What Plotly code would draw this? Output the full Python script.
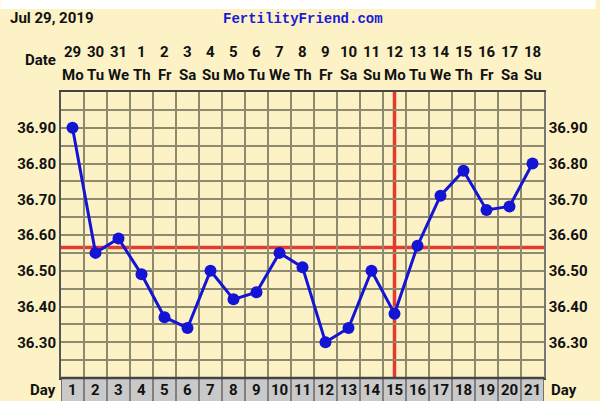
import plotly.graph_objects as go

days = list(range(1, 22))
dates = ["29", "30", "31", "1", "2", "3", "4", "5", "6", "7", "8", "9", "10",
         "11", "12", "13", "14", "15", "16", "17", "18"]
weekdays = ["Mo", "Tu", "We", "Th", "Fr", "Sa", "Su", "Mo", "Tu", "We", "Th",
            "Fr", "Sa", "Su", "Mo", "Tu", "We", "Th", "Fr", "Sa", "Su"]
temps = [36.90, 36.55, 36.59, 36.49, 36.37, 36.34, 36.50, 36.42, 36.44, 36.55,
         36.51, 36.30, 36.34, 36.50, 36.38, 36.57, 36.71, 36.78, 36.67, 36.68, 36.80]
coverline = 36.565
ovulation_day = 15
y_ticks = [36.30, 36.40, 36.50, 36.60, 36.70, 36.80, 36.90]
title_date = "Jul 29, 2019"
site = "FertilityFriend.com"

W, H = 600, 401
ML, MR, MT, MB = 61, 52, 92, 23
PH = H - MT - MB

def py(pix):
    return (H - MB - pix) / PH

FONT = "Roboto"
GRID = "#8e8a6e"
BG = "#fcf2c6"
RED = "#e53a30"
BLUE = "#1414d4"

fig = go.Figure()

fig.add_trace(go.Scatter(
    x=days, y=temps, mode="lines+markers",
    line=dict(color=BLUE, width=3),
    marker=dict(color=BLUE, size=12),
    hoverinfo="skip", showlegend=False,
))
fig.add_trace(go.Scatter(
    x=days, y=temps, mode="markers", yaxis="y2",
    marker=dict(opacity=0), hoverinfo="skip", showlegend=False,
))

yrange = [36.20, 37.00]
axis_common = dict(
    range=yrange, tickvals=y_ticks, tickformat=".2f",
    tickfont=dict(family=FONT, size=15, color="#111111", weight="bold"),
    ticks="", fixedrange=True, zeroline=False,
)
fig.update_layout(
    width=W, height=H,
    margin=dict(l=ML, r=MR, t=MT, b=MB, pad=0),
    paper_bgcolor=BG, plot_bgcolor=BG,
    xaxis=dict(
        range=[0.5, 21.5],
        tickvals=[d + 0.5 for d in days[:-1]],
        showticklabels=False, ticks="",
        showgrid=True, gridcolor=GRID, gridwidth=1.5,
        showline=True, linecolor="#444444", linewidth=2, mirror=True,
        zeroline=False, fixedrange=True,
    ),
    yaxis=dict(
        **axis_common, side="left",
        showgrid=True, gridcolor=GRID, gridwidth=1.5,
        minor=dict(dtick=0.05, showgrid=True, gridcolor=GRID, gridwidth=1.5),
        showline=True, linecolor="#555555", linewidth=2,
    ),
    yaxis2=dict(
        **axis_common, side="right", overlaying="y", showgrid=False,
        showline=True, linecolor="#777777", linewidth=1.5,
    ),
)

shapes = []
# white strip at very top
shapes.append(dict(type="rect", xref="paper", yref="paper",
                   x0=-ML / (W - ML - MR), x1=1 + MR / (W - ML - MR),
                   y0=py(9), y1=py(0), fillcolor="white", line_width=0, layer="below"))
# day row grey band
shapes.append(dict(type="rect", xref="x", yref="paper", x0=0.5, x1=21.5,
                   y0=py(H + 2), y1=0, fillcolor="#c9c9c9",
                   line=dict(color="#555555", width=1.5)))
for d in days[:-1]:
    shapes.append(dict(type="line", xref="x", yref="paper", x0=d + 0.5, x1=d + 0.5,
                       y0=py(H + 2), y1=0, line=dict(color="#666666", width=1.5)))
shapes.append(dict(type="line", xref="x", yref="paper", x0=0.5, x1=21.5,
                   y0=0, y1=0, line=dict(color="#444444", width=2.5)))
# coverline and ovulation line
shapes.append(dict(type="line", xref="paper", yref="y", x0=0, x1=1,
                   y0=coverline, y1=coverline, line=dict(color=RED, width=3.5),
                   layer="between"))
shapes.append(dict(type="line", xref="x", yref="paper", x0=ovulation_day,
                   x1=ovulation_day, y0=0, y1=py(90), line=dict(color=RED, width=3.5),
                   layer="between"))
fig.update_layout(shapes=shapes)

ann = []
bold = dict(family=FONT, size=15, color="#111111", weight="bold")
for d, dt, wd in zip(days, dates, weekdays):
    ann.append(dict(x=d, y=py(52), xref="x", yref="paper", text=dt,
                    showarrow=False, font=bold, xanchor="center", yanchor="middle"))
    ann.append(dict(x=d, y=py(75), xref="x", yref="paper", text=wd,
                    showarrow=False, font=bold, xanchor="center", yanchor="middle"))
    ann.append(dict(x=d, y=py(390), xref="x", yref="paper", text=str(d),
                    showarrow=False, font=bold, xanchor="center", yanchor="middle"))
ann.append(dict(x=58, y=py(60), xref="paper", yref="paper", text="Date",
                showarrow=False, font=bold, xanchor="right", yanchor="middle"))
ann.append(dict(x=58, y=py(390), xref="paper", yref="paper", text="Day",
                showarrow=False, font=bold, xanchor="right", yanchor="middle"))
ann.append(dict(x=553, y=py(390), xref="paper", yref="paper", text="Day",
                showarrow=False, font=bold, xanchor="left", yanchor="middle"))
ann.append(dict(x=8, y=py(18), xref="paper", yref="paper", text=title_date,
                showarrow=False, font=bold, xanchor="left", yanchor="middle"))
ann.append(dict(x=305, y=py(19), xref="paper", yref="paper", text=site,
                showarrow=False,
                font=dict(family="Liberation Mono", size=14, color="#1a1ad8", weight="bold"),
                xanchor="center", yanchor="middle"))
# convert pixel x for paper-referenced annotations
for a in ann:
    if a["xref"] == "paper":
        a["x"] = (a["x"] - ML) / (W - ML - MR)
fig.update_layout(annotations=ann)

fig.write_html("out.html")
